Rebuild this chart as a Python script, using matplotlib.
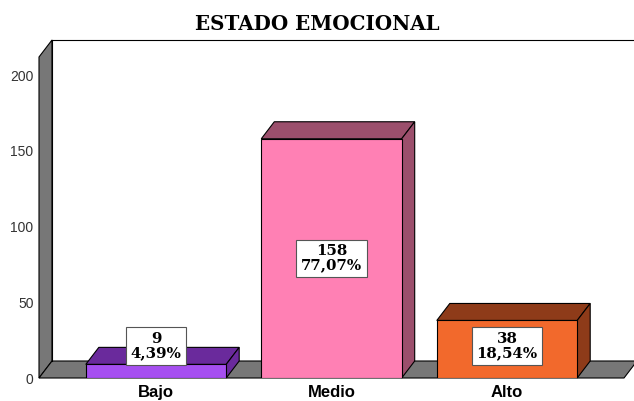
import matplotlib
matplotlib.use('Agg')
import matplotlib.pyplot as plt
from matplotlib.patches import Polygon, Rectangle

categories = ['Bajo', 'Medio', 'Alto']
counts = [9, 158, 38]
percents = ['4,39%', '77,07%', '18,54%']
yticks = [0, 50, 100, 150, 200]

front_colors = ['#a64ff0', '#ff80b4', '#f2692c']
shade_colors = ['#6a2a9c', '#9b4f6c', '#8e3b19']
wall_color = '#777777'

W, H = 634, 401
fig = plt.figure(figsize=(W / 100, H / 100), dpi=100)
# front plane of the 3d box, in pixels
left, right, bottom, top = 39, 624, 378, 57
ax = fig.add_axes([left / W, (H - bottom) / H, (right - left) / W, (bottom - top) / H])
xmin, xmax = -2 / 3, 8 / 3
ymin, ymax = 0, 212
ax.set_xlim(xmin, xmax)
ax.set_ylim(ymin, ymax)
for s in ax.spines.values():
    s.set_visible(False)

# depth offset: 13 px right, 17 px up
dx = 13 * (xmax - xmin) / (right - left)
dy = 17 * (ymax - ymin) / (bottom - top)
lw = 0.8

def poly(pts, fc, z):
    p = Polygon(pts, closed=True, facecolor=fc, edgecolor='black', lw=lw,
                zorder=z, clip_on=False, joinstyle='miter')
    ax.add_patch(p)

# left wall, floor and back wall top edge
poly([(xmin, 0), (xmin, ymax), (xmin + dx, ymax + dy), (xmin + dx, dy)], wall_color, 1)
poly([(xmin, 0), (xmax, 0), (xmax + dx, dy), (xmin + dx, dy)], wall_color, 1)
ax.plot([xmin + dx, xmax + dx], [ymax + dy, ymax + dy], color='black', lw=lw, clip_on=False, zorder=1)
ax.plot([xmin + dx, xmin + dx], [dy, ymax + dy], color='black', lw=lw, clip_on=False, zorder=1)

bw = 0.8
for i, (v, fc, sc) in enumerate(zip(counts, front_colors, shade_colors)):
    x0, x1 = i - bw / 2, i + bw / 2
    poly([(x0, v), (x1, v), (x1 + dx, v + dy), (x0 + dx, v + dy)], sc, 3)
    poly([(x1, 0), (x1 + dx, dy), (x1 + dx, v + dy), (x1, v)], sc, 3)
    ax.add_patch(Rectangle((x0, 0), bw, v, facecolor=fc, edgecolor='black', lw=lw, zorder=4))
    ypos = max(v / 2, 21)
    ax.text(i, ypos, f'{v}\n{percents[i]}', ha='center', va='center', fontsize=10.8,
            fontweight='bold', family='DejaVu Serif', linespacing=1.05, zorder=6,
            bbox=dict(boxstyle='square,pad=0.3', facecolor='white', edgecolor='#555555', lw=0.8))

ax.set_xticks(range(len(categories)))
ax.set_xticklabels(categories, fontsize=12, fontweight='bold', family='Liberation Sans')
ax.set_yticks(yticks)
ax.set_yticklabels([str(t) for t in yticks], fontsize=10, family='Liberation Sans', color='#333333')
ax.tick_params(length=0, pad=4)
ax.tick_params(axis='x', pad=5)

fig.text(0.5, 1 - 24 / H, 'ESTADO EMOCIONAL', ha='center', va='center', fontsize=14.3,
         fontweight='bold', family='DejaVu Serif')

fig.savefig('out.png', dpi=100)
